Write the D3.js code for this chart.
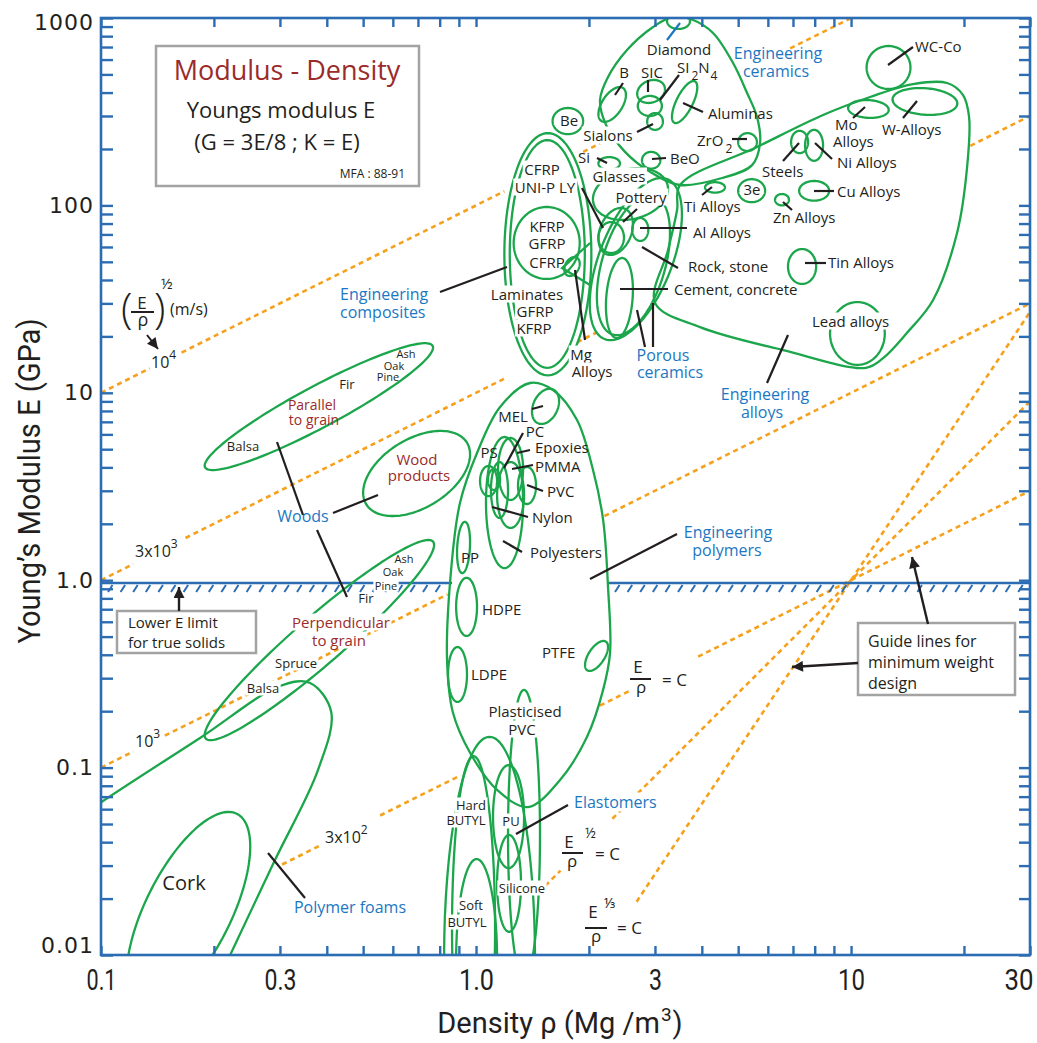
<!DOCTYPE html>
<html><head><meta charset="utf-8">
<script src="https://cdn.jsdelivr.net/npm/d3@7"></script>
<style>body{margin:0;background:#fff}</style>
</head><body>
<svg id="chart" width="1037" height="1043"></svg>
<script>
// ---------------- DATA (density Mg/m3, Young's modulus GPa) ----------------
// [name, rhoLow, rhoHigh, ELow, EHigh, correlation]
const ceramics = [
 ["Diamond",3.23,3.72,874,1063,0],["B",2.12,2.51,279,428,0.55],["SiC",2.69,3.19,352,467,0.2],
 ["SiC (2)",2.70,3.13,300,384,0],["Sialons",2.86,3.15,253,311,0],["Aluminas",3.33,3.89,275,461,0.7],
 ["Be",1.60,1.93,240,331,0],["ZrO2",5.00,5.61,195,243,0],["BeO",2.77,3.10,157,193,0],
 ["Si",2.12,2.42,155,181,0],["Glasses",2.05,3.25,83.6,158,0.2]
];
const metals = [
 ["WC-Co",11.0,14.4,418,709,0],["W-Alloys",12.9,19.2,304,423,-0.15],["Mo Alloys",9.82,12.6,293,365,-0.1],
 ["Steels",6.92,7.68,190,250,0],["Ni Alloys",7.54,8.42,173,253,0],["Ti Alloys",4.08,4.61,117,133,0],
 ["3e",5.00,5.90,104,138,0],["Zn Alloys",6.27,6.83,100,115,0],["Cu Alloys",7.27,8.74,106,135,0],
 ["Tin Alloys",6.79,8.07,38.1,58.5,0],["Lead alloys",8.79,12.3,14.1,30.5,0],
 ["Mg Alloys",1.72,1.89,42.0,53.0,0.3],["Al Alloys",2.61,2.88,64.6,85.7,0]
];
const composites = [
 ["Engineering composites",1.19,2.03,12.4,243,0],["Engineering composites (inner)",1.23,1.95,13.6,223,0],
 ["KFRP GFRP CFRP",1.26,1.89,40.5,98.1,0]
];
const porousCeramics = [
 ["Rock, stone",2.01,3.54,19.1,140,0.55],["Porous ceramics",2.10,3.29,20.3,114,0.45],
 ["Pottery",2.12,2.48,55.7,81.5,0],["Pottery (2)",2.12,2.62,54.4,96.9,0.3],
 ["Cement, concrete",2.22,2.62,19.6,52.4,0.2]
];
const woods = [
 ["Parallel to grain",0.189,0.768,3.87,18.4,0.93],["Wood products",0.50,0.964,2.20,6.26,0.45],
 ["Perpendicular to grain",0.189,0.773,0.140,1.64,0.95],["Cork",0.117,0.250,0.0051,0.058,0.65]
];
const polymers = [
 ["MEL",1.41,1.665,6.82,10.5,0.3],["Polyesters",1.063,1.335,1.16,5.81,0],["Nylon",1.138,1.343,1.90,4.27,0],
 ["PC",1.145,1.335,2.68,5.74,0],["Epoxies",1.096,1.217,2.15,4.27,0],["PS",1.025,1.138,2.81,4.07,0],
 ["PMMA",1.076,1.159,3.03,3.92,0],["PVC",1.294,1.445,2.55,4.02,0],["PP",0.890,0.964,1.09,2.05,0.2],
 ["HDPE",0.885,1.006,0.504,1.03,0],["LDPE",0.842,0.946,0.224,0.44,0],["PTFE",1.953,2.249,0.328,0.474,0.6]
];
const elastomers = [
 ["Elastomers",0.822,1.436,0.00063,0.146,0],["Hard BUTYL",0.863,1.124,0.00168,0.115,0],
 ["PU",1.110,1.343,0.0291,0.103,0],["Silicone",1.138,1.318,0.0133,0.0437,0],
 ["Soft BUTYL",0.885,1.138,0.00275,0.0325,0],["Plasticised PVC",1.217,1.481,0.00736,0.26,0]
];
// class envelopes: [density, modulus]
const ceramicsEnvelope = [[2.141,365],[2.249,484.5],[2.527,675],[2.965,895],[3.332,1012],[3.791,976],[4.285,832],[4.846,575],[5.281,398],[5.614,296],[5.719,215],[5.445,164],[4.529,140],[3.499,128.5],[2.911,151],[2.496,193],[2.222,268.5]];
const alloysEnvelope = [[3.499,128.5],[5.614,204.9],[8.42,303.7],[11.24,378.7],[14.63,444],[18.03,450],[19.89,388],[20.64,296],[20.39,160],[19.17,71.3],[16.55,31.3],[14.10,20.9],[12.17,15.3],[10.96,13.6],[6.59,16.9],[3.956,22.4],[3.001,30.2],[3.251,57.8],[3.436,94.5]];
const polymersEnvelope = [[1.393,11.28],[1.604,10.35],[1.859,7.16],[2.051,3.87],[2.182,2.10],[2.249,0.920],[2.277,0.409],[2.182,0.260],[1.977,0.146],[1.675,0.0859],[1.376,0.0616],[1.138,0.0760],[0.964,0.120],[0.868,0.196],[0.837,0.375],[0.858,1.133],[0.906,2.58],[1.006,4.77],[1.159,8.40]];
const foamsEnvelope = [[0.0688,0.0386],[0.0994,0.0647],[0.1837,0.1439],[0.300,0.2725],[0.361,0.283],[0.411,0.198],[0.379,0.0971],[0.291,0.0321],[0.221,0.01],[0.189,0.00509],[0.0688,0.00575]];
const mgWedge = [[2.014,63.0],[1.696,46.3],[2.014,37.6]];
// guide lines E = C * rho^n, drawn over density spans
const guideC = [100, 10, 1, 0.1, 0.01, 0.001];
const guideN = [1, 1, 1, 1, 2, 3];
const guideSpans = [
 [[0.1,0.135],[0.164,1.19],[1.93,2.14],[6.88,10]],
 [[0.1,0.122],[0.168,1.2],[1.86,2.14],[20.8,30]],
 [[0.1,0.122],[0.148,0.84],[2.2,30]],
 [[0.304,0.384],[0.555,0.91],[2.14,2.57],[3.91,30]],
 [[1.53,1.68],[2.31,30]],
 [[2.68,30]]
];
const lowerLimitE = 0.966;
const lowerLimitSpans = [[0.1,0.863],[2.249,30]];
const xTickLabels = [[0.1,"0.1"],[0.3,"0.3"],[1,"1.0"],[3,"3"],[10,"10"],[30,"30"]];
const yTickLabels = [[0.01,"0.01"],[0.1,"0.1"],[1,"1.0"],[10,"10"],[100,"100"],[1000,"1000"]];

// ---------------- SETUP ----------------
const BLUE="#2b6cb3", GREEN="#1ca64c", ORANGE="#f6a11c", INK="#231f20", CAT="#1c77c3", RED="#9b2b2b", GREY="#a3a3a3";
const FONT="'Open Sans','Noto Sans',sans-serif";
const NARROW="'Liberation Sans Narrow','Roboto','Open Sans',sans-serif";
const svg = d3.select("#chart");
svg.append("rect").attr("width",1037).attr("height",1043).attr("fill","#fff");
const x = d3.scaleLog().domain([0.1,30]).range([101,1030]);
const y = d3.scaleLog().domain([0.01,1000]).range([955,18]);
const defs = svg.append("defs");
defs.append("clipPath").attr("id","clip").append("rect").attr("x",101).attr("y",18).attr("width",929).attr("height",937);
defs.append("marker").attr("id","arr").attr("viewBox","0 0 10 10").attr("refX",10).attr("refY",5)
  .attr("markerWidth",13).attr("markerHeight",11).attr("markerUnits","userSpaceOnUse").attr("orient","auto")
  .append("path").attr("d","M0,0L10,5L0,10z").attr("fill",INK);

const plot = svg.append("g").attr("clip-path","url(#clip)");
const lineGen = d3.line().x(d=>x(d[0])).y(d=>y(d[1]));

// guide lines
guideC.forEach((C,i)=>{
  guideSpans[i].forEach(s=>{
    plot.append("path").attr("d", lineGen([[s[0],C*Math.pow(s[0],guideN[i])],[s[1],C*Math.pow(s[1],guideN[i])]]))
      .attr("stroke",ORANGE).attr("stroke-width",2.6).attr("stroke-dasharray","5,4").attr("fill","none");
  });
});
// lower E limit
lowerLimitSpans.forEach(s=>{
  plot.append("path").attr("d", lineGen([[s[0],lowerLimitE],[s[1],lowerLimitE]]))
    .attr("stroke",BLUE).attr("stroke-width",2.6).attr("fill","none");
  const y0 = y(lowerLimitE);
  for (let px = x(s[0])+7; px < x(s[1])-4; px += 12.6) {
    plot.append("line").attr("x1",px).attr("y1",y0+9).attr("x2",px+4.5).attr("y2",y0+2)
      .attr("stroke",BLUE).attr("stroke-width",2);
  }
});

// material ellipses
function ellipse(r0,r1,e0,e1,c){
  const lx0=Math.log10(r0), lx1=Math.log10(r1), ly0=Math.log10(e0), ly1=Math.log10(e1);
  const cx=(lx0+lx1)/2, dx=(lx1-lx0)/2, cy=(ly0+ly1)/2, dy=(ly1-ly0)/2, d=Math.acos(c);
  return d3.range(140).map(i=>{const t=2*Math.PI*i/140; return [Math.pow(10,cx+dx*Math.cos(t)), Math.pow(10,cy+dy*Math.cos(t-d))];});
}
const closedLine = d3.line().x(d=>x(d[0])).y(d=>y(d[1])).curve(d3.curveLinearClosed);
const smoothClosed = d3.line().x(d=>x(d[0])).y(d=>y(d[1])).curve(d3.curveCatmullRomClosed.alpha(0.5));
const shapes = plot.append("g").attr("fill","none").attr("stroke",GREEN).attr("stroke-width",2.3);
[ceramics, metals, composites, porousCeramics, woods, polymers, elastomers].forEach(group=>{
  group.forEach(m=>{ shapes.append("path").attr("d", closedLine(ellipse(m[1],m[2],m[3],m[4],m[5]))); });
});
[ceramicsEnvelope, alloysEnvelope, polymersEnvelope, foamsEnvelope].forEach(env=>{
  shapes.append("path").attr("d", smoothClosed(env));
});
shapes.append("path").attr("d", lineGen(mgWedge));

// ---------------- AXES ----------------
const minor = [];
[0.01,0.1,1,10,100].forEach(d=>{ for(let m=1;m<=9;m++){ minor.push(m*d); } }); minor.push(1000);
const xMinor = minor.filter(v=>v>=0.1 && v<=30);
const axes = svg.append("g");
axes.append("g").attr("transform","translate(0,955)").call(d3.axisBottom(x).tickValues(xMinor).tickSize(-9).tickFormat(""));
axes.append("g").attr("transform","translate(0,18)").call(d3.axisTop(x).tickValues(xMinor).tickSize(-9).tickFormat(""));
axes.append("g").attr("transform","translate(101,0)").call(d3.axisLeft(y).tickValues(minor).tickSize(-12).tickFormat(""));
axes.append("g").attr("transform","translate(1030,0)").call(d3.axisRight(y).tickValues(minor).tickSize(-11).tickFormat(""));
axes.selectAll(".domain").remove();
axes.selectAll(".tick line").attr("stroke",BLUE).attr("stroke-width",2.4);
svg.append("rect").attr("x",101).attr("y",18).attr("width",929).attr("height",937)
  .attr("fill","none").attr("stroke",BLUE).attr("stroke-width",2.6);

const xLabelWidth = {"0.1":30,"0.3":32,"1.0":35,"3":13,"10":27,"30":29};
const xl = svg.append("g").attr("transform","translate(0,955)")
  .call(d3.axisBottom(x).tickValues(xTickLabels.map(d=>d[0])).tickSize(0).tickPadding(14)
  .tickFormat(v=>xTickLabels.find(d=>d[0]===v)[1]));
xl.select(".domain").remove();
xl.selectAll("text").attr("font-family",NARROW).attr("font-size",29).attr("fill",INK)
  .attr("textLength",function(){return xLabelWidth[this.textContent];}).attr("lengthAdjust","spacingAndGlyphs");
xl.selectAll(".tick").filter(v=>v===30).select("text").attr("text-anchor","end").attr("x",3);
const yl = svg.append("g").attr("transform","translate(94,0)")
  .call(d3.axisLeft(y).tickValues(yTickLabels.map(d=>d[0])).tickSize(0).tickPadding(0)
  .tickFormat(v=>yTickLabels.find(d=>d[0]===v)[1]));
yl.select(".domain").remove();
yl.selectAll("text").attr("font-family","'DejaVu Sans',sans-serif").attr("font-size",22).attr("fill",INK).attr("letter-spacing",1);
yl.selectAll(".tick").filter(v=>v===0.01).select("text").attr("dy","-0.1em");
yl.selectAll(".tick").filter(v=>v===1000).select("text").attr("dy","0.5em");

svg.append("text").attr("x",560).attr("y",1033).attr("text-anchor","middle").attr("font-family",NARROW)
  .attr("font-size",29).attr("fill",INK)
  .call(t=>{t.append("tspan").text("Density ρ (Mg /m");
            t.append("tspan").text("3").attr("dy",-12).attr("dx",1).attr("font-size",19); t.append("tspan").text(")").attr("dy",12).attr("dx",1);});
svg.append("text").attr("transform","translate(40,481) rotate(-90)").attr("text-anchor","middle")
  .attr("font-family",NARROW).attr("font-size",31).attr("fill",INK)
  .attr("textLength",325).attr("lengthAdjust","spacingAndGlyphs").text("Young’s Modulus E (GPa)");

// ---------------- ANNOTATIONS ----------------
const ann = svg.append("g");
function txt(px,py,parts,o={}){
  const el = ann.append("text").attr("x",px).attr("y",py).attr("text-anchor",o.a||"start")
    .attr("font-size",o.s||15).attr("fill",o.c||INK).attr("font-family",o.f||FONT);
  if (o.w) el.attr("font-weight",o.w);
  if (typeof parts==="string") el.text(parts);
  else parts.forEach(p=>{const ts=el.append("tspan").text(p.t); if(p.dy) ts.attr("dy",p.dy); if(p.dx) ts.attr("dx",p.dx); if(p.s) ts.attr("font-size",p.s);});
  if (o.bg){ const b=el.node().getBBox(); ann.insert("rect",()=>el.node()).attr("x",b.x-1.5).attr("y",b.y+1.5).attr("width",b.width+3).attr("height",b.height-3).attr("fill","#fff"); }
  return el;
}
function box(x0,y0,x1,y1){ ann.append("rect").attr("x",x0).attr("y",y0).attr("width",x1-x0).attr("height",y1-y0).attr("fill","#fff").attr("stroke",GREY).attr("stroke-width",2.5); }
function seg(x1,y1,x2,y2,o={}){ const l=ann.append("line").attr("x1",x1).attr("y1",y1).attr("x2",x2).attr("y2",y2).attr("stroke",o.c||INK).attr("stroke-width",o.w||2.2); if(o.arrow) l.attr("marker-end","url(#arr)"); return l; }

// title box
box(156,46,419,186);
txt(287,80,"Modulus - Density",{a:"middle",s:27,c:RED});
txt(281,118,"Youngs modulus E",{a:"middle",s:22});
txt(277,150,"(G = 3E/8 ; K = E)",{a:"middle",s:22});
txt(405,178,"MFA : 88-91",{a:"end",s:12});
// lower E limit box
box(117,611,256,653);
txt(128,628,"Lower E limit",{s:15}); txt(128,648,"for true solids",{s:15});
seg(179,611,179,587,{arrow:true,w:2.4});
// guide box
box(858,623,1015,695);
txt(868,647,"Guide lines for",{s:16}); txt(868,668,"minimum weight",{s:16}); txt(868,689,"design",{s:16});
seg(928,624,912,557,{arrow:true,w:2.4}); seg(858,663,792,667,{arrow:true,w:2.4});

// velocity labels
txt(121,323,"(",{s:42,w:300});
txt(142,309,"E",{a:"middle",s:17}); seg(131,312,154,312,{w:2});
txt(143,326,"ρ",{a:"middle",s:18});
txt(154,323,")",{s:42,w:300});
txt(161,289,"½",{s:15}); txt(170,315,"(m/s)",{s:16});
seg(147,335,158,349,{arrow:true,w:2});
txt(151,368,[{t:"10"},{t:"4",dy:-9,s:12}],{s:16});
txt(135,557,[{t:"3x10"},{t:"3",dy:-9,s:12}],{s:16});
txt(135,747,[{t:"10"},{t:"3",dy:-9,s:12}],{s:16});
txt(325,843,[{t:"3x10"},{t:"2",dy:-9,s:12}],{s:16});
// equation labels
txt(638,673,"E",{a:"middle",s:17}); seg(630,679,651,679,{w:2}); txt(641,693,"ρ",{a:"middle",s:17}); txt(662,686,"= C",{s:17});
txt(569,848,"E",{a:"middle",s:17}); txt(585,838,"½",{s:14}); seg(562,853,583,853,{w:2}); txt(572,867,"ρ",{a:"middle",s:17}); txt(595,860,"= C",{s:17});
txt(593,918,"E",{a:"middle",s:17}); txt(604,908,"⅓",{s:14}); seg(585,928,607,928,{w:2}); txt(596,942,"ρ",{a:"middle",s:17}); txt(617,934,"= C",{s:17});

// category labels (blue)
txt(778,59,"Engineering",{a:"middle",s:16,c:CAT}); txt(776,77,"ceramics",{a:"middle",s:16,c:CAT});
txt(340,300,"Engineering",{s:16,c:CAT}); txt(340,318,"composites",{s:16,c:CAT});
txt(663,361,"Porous",{a:"middle",s:16,c:CAT}); txt(670,378,"ceramics",{a:"middle",s:16,c:CAT});
txt(765,400,"Engineering",{a:"middle",s:16,c:CAT}); txt(762,418,"alloys",{a:"middle",s:16,c:CAT});
txt(728,538,"Engineering",{a:"middle",s:16,c:CAT}); txt(727,556,"polymers",{a:"middle",s:16,c:CAT});
txt(303,522,"Woods",{a:"middle",s:16,c:CAT});
txt(350,913,"Polymer foams",{a:"middle",s:16,c:CAT});
txt(574,808,"Elastomers",{s:16,c:CAT,bg:true});

// ceramics labels
txt(679,55,"Diamond",{a:"middle"});
txt(624,78,"B",{a:"middle"}); txt(652,78,"SIC",{a:"middle"});
txt(677,73,[{t:"SI"},{t:"2",dy:7,dx:2,s:12},{t:"N",dy:-7},{t:"4",dy:7,dx:1,s:12}]);
txt(708,119,"Aluminas"); txt(569,126,"Be",{a:"middle"});
txt(608,141,"Sialons",{a:"middle",bg:true});
txt(697,146,[{t:"ZrO"},{t:"2",dy:7,dx:2,s:12}]);
txt(584,163,"Si",{a:"middle"}); txt(670,164,"BeO");
txt(619,182,"Glasses",{a:"middle",bg:true});
txt(542,175,"CFRP",{a:"middle",bg:true}); txt(545,193,"UNI-P LY",{a:"middle",bg:true});
txt(641,203,"Pottery",{a:"middle",bg:true});
txt(547,232,"KFRP",{a:"middle"}); txt(547,249,"GFRP",{a:"middle"}); txt(547,268,"CFRP",{a:"middle"});
txt(693,238,"Al  Alloys"); txt(688,272,"Rock, stone"); txt(674,295,"Cement, concrete");
txt(527,300,"Laminates",{a:"middle",bg:true}); txt(535,317,"GFRP",{a:"middle",bg:true}); txt(534,334,"KFRP",{a:"middle",bg:true});
txt(581,360,"Mg",{a:"middle",bg:true}); txt(592,377,"Alloys",{a:"middle",bg:true});
// metals labels
txt(915,52,"WC-Co"); txt(882,135,"W-Alloys"); txt(835,130,"Mo"); txt(833,147,"Alloys");
txt(762,177,"Steels"); txt(837,168,"Ni Alloys"); txt(684,212,"Ti Alloys"); txt(752,195,"3e",{a:"middle"});
txt(773,223,"Zn Alloys"); txt(837,197,"Cu Alloys"); txt(828,268,"Tin Alloys");
txt(812,327,"Lead alloys",{bg:true});
// woods
txt(406,358,"Ash",{a:"middle",s:11}); txt(394,370,"Oak",{a:"middle",s:11}); txt(388,381,"Pine",{a:"middle",s:11});
txt(347,389,"Fir",{a:"middle",s:13});
txt(312,410,"Parallel",{a:"middle",s:14,c:RED}); txt(314,425,"to grain",{a:"middle",s:14,c:RED});
txt(243,451,"Balsa",{a:"middle",s:13});
txt(417,465,"Wood",{a:"middle",s:15,c:RED}); txt(419,481,"products",{a:"middle",s:15,c:RED});
txt(404,563,"Ash",{a:"middle",s:11}); txt(393,576,"Oak",{a:"middle",s:11}); txt(386,590,"Pine",{a:"middle",s:11,bg:true});
txt(366,603,"Fir",{a:"middle",s:13});
txt(341,628,"Perpendicular",{a:"middle",s:15,c:RED,bg:true}); txt(339,646,"to grain",{a:"middle",s:15,c:RED,bg:true});
txt(296,668,"Spruce",{a:"middle",s:13,bg:true}); txt(263,693,"Balsa",{a:"middle",s:13,bg:true});
txt(184,890,"Cork",{a:"middle",s:20});
// polymers
txt(513,422,"MEL",{a:"middle"}); txt(535,437,"PC",{a:"middle"}); txt(535,453,"Epoxies");
txt(489,458,"PS",{a:"middle"}); txt(535,472,"PMMA"); txt(547,497,"PVC"); txt(532,523,"Nylon");
txt(530,558,"Polyesters"); txt(470,563,"PP",{a:"middle"}); txt(482,615,"HDPE"); txt(542,658,"PTFE"); txt(471,680,"LDPE");
txt(525,717,"Plasticised",{a:"middle",bg:true}); txt(522,735,"PVC",{a:"middle",bg:true});
txt(471,810,"Hard",{a:"middle",s:13,bg:true}); txt(466,825,"BUTYL",{a:"middle",s:13,bg:true});
txt(511,826,"PU",{a:"middle",s:13,bg:true});
txt(522,893,"Silicone",{a:"middle",s:13,bg:true});
txt(471,910,"Soft",{a:"middle",s:13,bg:true}); txt(467,927,"BUTYL",{a:"middle",s:13,bg:true});

// leader lines
[[615,95,623,83],[648,80,648,92],[660,100,679,75],[683,103,703,112],[637,132,653,124],[732,139,747,139],
 [597,158,607,163],[652,159,666,158],[582,188,603,228],[637,209,623,222],[640,228,687,228],[642,247,678,268],
 [620,289,668,289],[440,292,507,267],[575,270,585,340],[637,310,645,347],[653,303,653,347],[788,335,767,383],
 [888,65,913,47],[903,118,917,101],[853,118,865,107],[783,161,799,143],[815,143,832,159],[702,195,712,187],
 [792,210,783,202],[814,191,834,191],[805,263,826,263],
 [277,442,303,515],[333,513,378,495],[317,530,347,597],[268,853,305,898],
 [532,409,543,406],[523,433,504,468],[517,453,530,450],[512,469,533,465],[527,485,543,491],[492,507,528,517],
 [503,541,522,552],[590,579,677,534],[516,834,568,805]
].forEach(l=>seg(l[0],l[1],l[2],l[3]));
seg(667,40,680,23,{c:CAT});
</script>
</body></html>
